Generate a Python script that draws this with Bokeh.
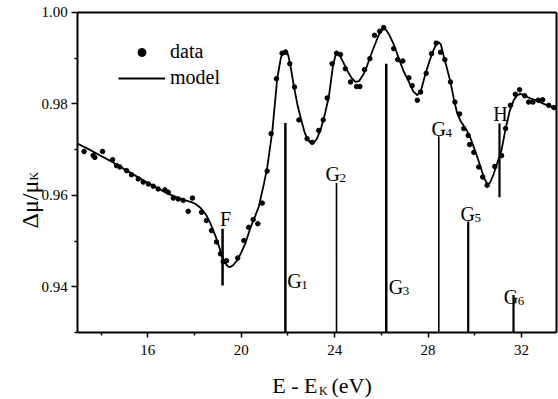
import math
from bokeh.plotting import figure
from bokeh.models import Range1d, FixedTicker, Legend, LegendItem, Label, LinearAxis
from bokeh.core.properties import value
from bokeh.embed import file_html
from bokeh.resources import INLINE

FONT = "Liberation Serif"

# measured data points (E - E_K in eV, delta mu / mu_K)
data_e = [13.27, 13.66, 13.73, 14.06, 14.49, 14.66, 14.80, 15.09, 15.30, 15.59,
          15.80, 16.02, 16.23, 16.44, 16.73, 16.87, 17.09, 17.30, 17.51, 17.73,
          17.91, 18.30, 18.51, 18.73, 18.94, 19.11, 19.23, 19.37, 19.85, 20.11,
          20.32, 20.51, 20.71, 20.90, 21.11, 21.28, 21.51, 21.75, 21.90, 22.08,
          22.28, 22.47, 22.82, 23.04, 23.32, 23.51, 23.68, 23.89, 24.08, 24.25,
          24.46, 24.68, 24.94, 25.08, 25.28, 25.51, 25.71, 25.93, 26.10, 26.53,
          26.70, 26.92, 27.18, 27.32, 27.54, 27.68, 27.92, 28.15, 28.35, 28.53,
          28.72, 28.96, 29.15, 29.35, 29.53, 29.72, 29.78, 29.96, 30.17, 30.34,
          30.53, 30.86, 31.15, 31.32, 31.53, 31.74, 31.92, 32.14, 32.31, 32.49,
          32.72, 32.91, 33.17, 33.39]
data_mu = [0.9696, 0.9687, 0.9683, 0.9696, 0.9678, 0.9665, 0.9662, 0.9654, 0.9645, 0.9636,
           0.9629, 0.9625, 0.9620, 0.9614, 0.9612, 0.9607, 0.9594, 0.9592, 0.9589, 0.9565,
           0.9594, 0.9563, 0.9545, 0.9523, 0.9498, 0.9472, 0.9455, 0.9457, 0.9463, 0.9501,
           0.9530, 0.9547, 0.9538, 0.9583, 0.9653, 0.9735, 0.9855, 0.9911, 0.9913, 0.9888,
           0.9837, 0.9765, 0.9724, 0.9716, 0.9742, 0.9765, 0.9813, 0.9888, 0.9911, 0.9908,
           0.9877, 0.9848, 0.9838, 0.9838, 0.9875, 0.9899, 0.9950, 0.9959, 0.9967, 0.9921,
           0.9897, 0.9894, 0.9857, 0.9840, 0.9808, 0.9826, 0.9867, 0.9910, 0.9933, 0.9913,
           0.9897, 0.9848, 0.9804, 0.9778, 0.9746, 0.9731, 0.9711, 0.9694, 0.9662, 0.9640,
           0.9622, 0.9663, 0.9687, 0.9746, 0.9797, 0.9821, 0.9831, 0.9818, 0.9804, 0.9804,
           0.9808, 0.9809, 0.9797, 0.9792]

# model curve
model_e = [13.00, 13.50, 14.00, 14.37, 14.80, 15.30, 15.80, 16.30, 16.80, 17.23,
           17.60, 17.87, 18.05, 18.22, 18.37, 18.51, 18.66, 18.80, 18.91, 19.01,
           19.12, 19.23, 19.34, 19.44, 19.51, 19.65, 19.83, 20.00, 20.18, 20.40,
           20.60, 20.75, 20.97, 21.11, 21.33, 21.54, 21.70, 21.82, 21.92, 22.02,
           22.12, 22.25, 22.40, 22.54, 22.70, 22.82, 22.95, 23.08, 23.22, 23.39,
           23.57, 23.75, 23.92, 24.03, 24.11, 24.20, 24.35, 24.54, 24.72, 24.89,
           25.05, 25.20, 25.32, 25.50, 25.68, 25.88, 26.00, 26.10, 26.20, 26.35,
           26.53, 26.75, 26.95, 27.18, 27.36, 27.54, 27.70, 27.89, 28.07, 28.25,
           28.38, 28.46, 28.55, 28.67, 28.80, 28.96, 29.10, 29.25, 29.40, 29.53,
           29.68, 29.82, 29.96, 30.10, 30.25, 30.40, 30.53, 30.65, 30.80, 30.96,
           31.15, 31.32, 31.50, 31.67, 31.80, 31.95, 32.15, 32.39, 32.70, 32.96,
           33.20, 33.50]
model_mu = [0.9713, 0.9700, 0.9686, 0.9676, 0.9663, 0.9648, 0.9633, 0.9619, 0.9605, 0.9596,
            0.9589, 0.9585, 0.9581, 0.9574, 0.9566, 0.9556, 0.9541, 0.9523, 0.9509, 0.9494,
            0.9477, 0.9461, 0.9450, 0.9444, 0.9443, 0.9447, 0.9458, 0.9475, 0.9495, 0.9530,
            0.9555, 0.9575, 0.9625, 0.9660, 0.9740, 0.9855, 0.9902, 0.9915, 0.9918, 0.9905,
            0.9880, 0.9840, 0.9800, 0.9771, 0.9740, 0.9724, 0.9716, 0.9714, 0.9722, 0.9742,
            0.9775, 0.9815, 0.9880, 0.9905, 0.9911, 0.9908, 0.9893, 0.9873, 0.9857, 0.9848,
            0.9850, 0.9862, 0.9873, 0.9900, 0.9924, 0.9950, 0.9960, 0.9964, 0.9962, 0.9950,
            0.9930, 0.9899, 0.9872, 0.9848, 0.9828, 0.9819, 0.9830, 0.9866, 0.9895, 0.9920,
            0.9933, 0.9935, 0.9930, 0.9905, 0.9880, 0.9848, 0.9812, 0.9779, 0.9762, 0.9752,
            0.9740, 0.9725, 0.9705, 0.9685, 0.9662, 0.9638, 0.9625, 0.9627, 0.9645, 0.9670,
            0.9700, 0.9745, 0.9785, 0.9808, 0.9818, 0.9822, 0.9818, 0.9812, 0.9806, 0.9800,
            0.9795, 0.9790]

# assigned transitions (sticks)
stick_name = ["F", "G", "G", "G", "G", "G", "G", "H"]
stick_sub = ["", "1", "2", "3", "4", "5", "6", ""]
stick_e = [19.20, 21.89, 24.08, 26.21, 28.46, 29.72, 31.66, 31.06]
stick_lo = [0.9403, 0.93, 0.93, 0.93, 0.93, 0.93, 0.93, 0.9596]
stick_hi = [0.9527, 0.9758, 0.9627, 0.9888, 0.9729, 0.9543, 0.9382, 0.9757]
stick_w = [2.5, 2.5, 1.6, 2.5, 1.6, 2.2, 2.2, 2.2]
label_e = [19.09, 21.97, 23.61, 26.32, 28.15, 29.39, 31.24, 30.79]
label_mu = [0.9549, 0.9412, 0.9647, 0.9399, 0.9746, 0.9560, 0.9377, 0.9778]

# axis box and ticks
x_lo, x_hi = 13.0, 33.5
y_lo, y_hi = 0.93, 1.00
x_ticks = [16, 20, 24, 28, 32]
x_minor = [14, 18, 22, 26, 30]
y_ticks = [0.94, 0.96, 0.98, 1.00]
y_minor = [0.93, 0.95, 0.97, 0.99]

# the frame spans the whole canvas; the axes box is drawn with fixed-location axes
p = figure(width=558, height=399, x_range=Range1d(9.6895, 33.587),
           y_range=Range1d(0.915336, 1.002625),
           output_backend="svg", toolbar_location=None, min_border=0)
p.xgrid.visible = False
p.ygrid.visible = False
p.outline_line_color = None

p.xaxis.fixed_location = y_lo
p.xaxis.bounds = (x_lo, x_hi)
p.yaxis.fixed_location = x_lo
p.yaxis.bounds = (y_lo, y_hi)

for ax in (p.xaxis[0], p.yaxis[0]):
    ax.axis_line_width = 2
    ax.major_tick_line_width = 1.5
    ax.minor_tick_line_width = 1.5
    ax.major_tick_in = 0
    ax.minor_tick_in = 0
    ax.major_label_text_font = FONT
    ax.major_label_text_font_size = "15px"
    ax.major_label_text_color = "black"
    ax.axis_line_color = "black"
    ax.major_tick_line_color = "black"
    ax.minor_tick_line_color = "black"

p.xaxis.ticker = FixedTicker(ticks=x_ticks, minor_ticks=x_minor)
p.yaxis.ticker = FixedTicker(ticks=y_ticks, minor_ticks=y_minor)
p.xaxis.major_label_overrides = {t: str(t) for t in x_ticks}
p.yaxis.major_label_overrides = {t: "%.2f" % t for t in y_ticks}
p.xaxis.major_tick_out = 5
p.xaxis.minor_tick_out = 3
p.xaxis.major_label_standoff = 8
p.yaxis.major_tick_out = 6
p.yaxis.minor_tick_out = 3
p.yaxis.major_label_standoff = 4

top_ax = LinearAxis(fixed_location=y_hi, bounds=(x_lo, x_hi), ticker=FixedTicker(ticks=[]),
                    axis_line_width=2, axis_line_color="black",
                    major_label_text_font_size="0px")
right_ax = LinearAxis(fixed_location=x_hi, bounds=(y_lo, y_hi), ticker=FixedTicker(ticks=[]),
                      axis_line_width=2, axis_line_color="black",
                      major_label_text_font_size="0px")
p.add_layout(top_ax, "above")
p.add_layout(right_ax, "right")

# sticks
p.segment(x0=stick_e, x1=stick_e, y0=stick_lo, y1=stick_hi, line_color="black",
          line_width=stick_w)

r_line = p.line(model_e, model_mu, line_color="black", line_width=1.8)
r_dots = p.scatter(data_e, data_mu, size=4.5, color="black")

p.text(x=label_e, y=label_mu, text=stick_name, text_font=value(FONT), text_font_size="20px",
       text_align="left", text_baseline="alphabetic", text_color="black")
p.text(x=label_e, y=label_mu, text=stick_sub, text_font=value(FONT), text_font_size="13px",
       text_align="left", text_baseline="alphabetic", text_color="black",
       x_offset=14, y_offset=4)

legend = Legend(items=[LegendItem(label="data", renderers=[r_dots]),
                       LegendItem(label="model", renderers=[r_line])],
                location=(118, 310), padding=0, margin=0, border_line_color=None,
                background_fill_alpha=0, glyph_width=47, glyph_height=20,
                label_height=20, spacing=3, label_standoff=5,
                label_text_font=FONT, label_text_font_size="20px",
                label_text_color="black")
p.add_layout(legend)

# axis titles with subscripts
p.add_layout(Label(x=271.7, y=14, x_units="screen", y_units="screen", text="E - E",
                   text_font=FONT, text_font_size="22px", text_baseline="alphabetic",
                   text_color="black"))
p.add_layout(Label(x=318.5, y=9, x_units="screen", y_units="screen", text="K",
                   text_font=FONT, text_font_size="12px", text_baseline="alphabetic",
                   text_color="black"))
p.add_layout(Label(x=331, y=14, x_units="screen", y_units="screen", text="(eV)",
                   text_font=FONT, text_font_size="22px", text_baseline="alphabetic",
                   text_color="black"))
p.add_layout(Label(x=29, y=171, x_units="screen", y_units="screen", text="Δμ/μ",
                   angle=math.pi / 2, text_font=FONT, text_font_size="24px",
                   text_baseline="alphabetic", text_color="black"))
p.add_layout(Label(x=33, y=219, x_units="screen", y_units="screen", text="K",
                   angle=math.pi / 2, text_font=FONT, text_font_size="12px",
                   text_baseline="alphabetic", text_color="black"))

open("out.html", "w").write(file_html(p, INLINE))
